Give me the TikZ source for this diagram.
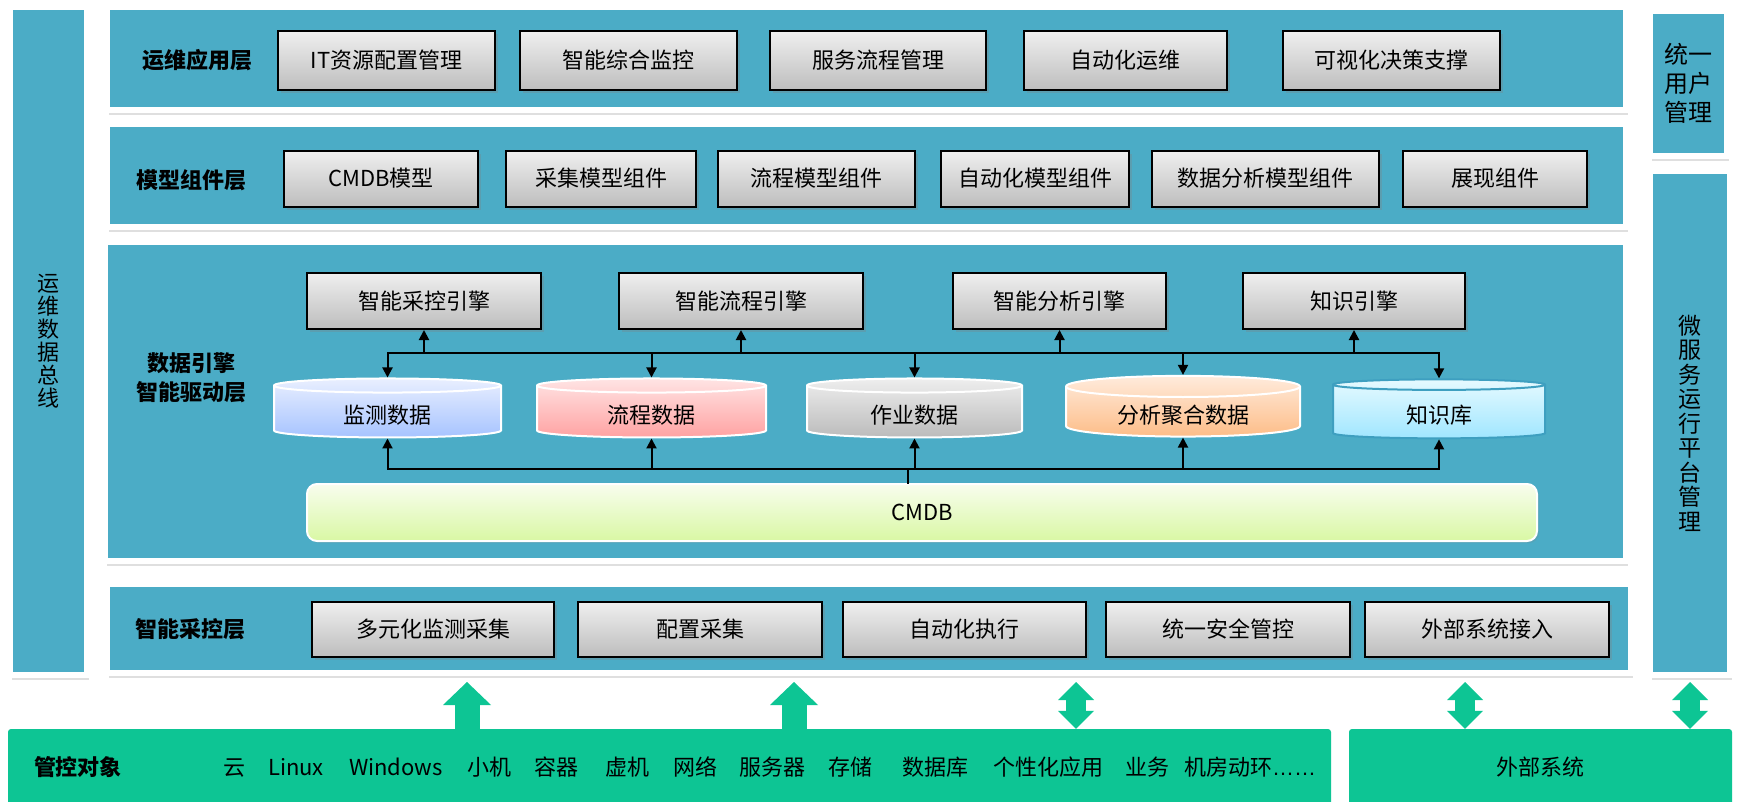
\documentclass[tikz,border=0pt]{standalone}
\usepackage{fontspec}
\setmainfont{Noto Sans CJK SC}
\newfontfamily\dotsfont{Liberation Sans}
\usetikzlibrary{positioning,shapes.geometric,shadows,arrows.meta}

\definecolor{layerblue}{HTML}{4BACC6}
\definecolor{objgreen}{HTML}{0DC594}
\definecolor{boxtop}{HTML}{EFEFEF}
\definecolor{boxbot}{HTML}{BDBDBD}
\definecolor{montop}{HTML}{E9EFFF}
\definecolor{monbot}{HTML}{A6C3FF}
\definecolor{flowtop}{HTML}{FFE4E4}
\definecolor{flowbot}{HTML}{FFA2A2}
\definecolor{jobtop}{HTML}{EEEEEE}
\definecolor{jobbot}{HTML}{BBBBBB}
\definecolor{anatop}{HTML}{FFEBDC}
\definecolor{anabot}{HTML}{FDBD88}
\definecolor{kbtop}{HTML}{E6FAFF}
\definecolor{kbbot}{HTML}{A0E6FF}
\definecolor{kbline}{HTML}{3E9FC0}
\definecolor{cmdbtop}{HTML}{F8FDEE}
\definecolor{cmdbbot}{HTML}{D9F8A4}

\tikzset{
    layer/.style={draw=white, fill=layerblue, line width=6pt, inner sep=0pt,
        drop shadow={shadow xshift=2pt, shadow yshift=-5pt, opacity=0.25}},
    lbl/.style={font=\fontsize{22pt}{29pt}\selectfont\bfseries, align=center},
    txt/.style={font=\fontsize{22pt}{26pt}\selectfont, text height=19pt, text depth=3pt},
    box/.style={txt, draw=black, line width=2pt, top color=boxtop, bottom color=boxbot,
        minimum height=56pt, inner sep=0pt,
        drop shadow={shadow xshift=3pt, shadow yshift=-3pt, opacity=0.3}},
    db/.style={txt, text height=25pt, cylinder, shape border rotate=90, aspect=0.16,
        draw=white, line width=2pt, minimum height=59pt, inner sep=0pt},
    link/.style={line width=2pt, -{Triangle[length=10pt, width=10pt]}},
    rail/.style={line width=2pt, line cap=rect},
    obj/.style={txt, fill=objgreen, rounded corners=3pt, inner sep=0pt},
    bigup/.style={draw=objgreen, line width=25pt,
        -{Triangle[length=23pt, width=48pt, line width=0pt]}},
    bigtwo/.style={draw=objgreen, line width=20pt,
        {Triangle[length=18pt, width=36pt, line width=0pt]}-{Triangle[length=18pt, width=36pt, line width=0pt]}},
}

\begin{document}
\begin{tikzpicture}[x=1pt, y=-1pt]
    \useasboundingbox[fill=white] (0,0) rectangle (1740,802);

    \node[layer, minimum width=77pt, minimum height=668pt, align=center,
        font=\fontsize{22pt}{23pt}\selectfont] (ops) at (48.5,341) {运\\维\\数\\据\\总\\线};
    \node[layer, minimum width=1519pt, minimum height=103pt] (app) at (866.5,58.5) {};
    \node[layer, minimum width=1519pt, minimum height=103pt] (model) at (866.5,175.5) {};
    \node[layer, minimum width=1521pt, minimum height=319pt] (engine) at (865.5,401.5) {};
    \node[layer, minimum width=1524pt, minimum height=89pt] (collect) at (869,628.5) {};
    \node[layer, minimum width=77pt, minimum height=145pt, align=center,
        font=\fontsize{24pt}{29pt}\selectfont] (user) at (1688.5,83.5) {统一\\用户\\管理};
    \node[layer, minimum width=80pt, minimum height=504pt, align=center,
        font=\fontsize{23pt}{24.5pt}\selectfont] (micro) at (1690,423) {微\\服\\务\\运\\行\\平\\台\\管\\理};

    \node[lbl] (l1) at (197,60) {运维应用层};
    \node[lbl] (l2) at (191,180) {模型组件层};
    \node[lbl] (l3) at (191,378) {数据引擎\\智能驱动层};
    \node[lbl] (l4) at (190,629) {智能采控层};

    \node[box, minimum width=217pt, minimum height=59pt] (a1) at (386.5,61) {IT资源配置管理};
    \node[box, minimum width=217pt, minimum height=59pt] (a2) at (628.5,61) {智能综合监控};
    \node[box, minimum width=216pt, minimum height=59pt] (a3) at (878,61) {服务流程管理};
    \node[box, minimum width=203pt, minimum height=59pt] (a4) at (1125.5,61) {自动化运维};
    \node[box, minimum width=217pt, minimum height=59pt] (a5) at (1391.5,61) {可视化决策支撑};

    \node[box, minimum width=194pt] (m1) at (381,179) {CMDB模型};
    \node[box, minimum width=190pt] (m2) at (601,179) {采集模型组件};
    \node[box, minimum width=197pt] (m3) at (816.5,179) {流程模型组件};
    \node[box, minimum width=188pt] (m4) at (1035,179) {自动化模型组件};
    \node[box, minimum width=227pt] (m5) at (1265.5,179) {数据分析模型组件};
    \node[box, minimum width=184pt] (m6) at (1495,179) {展现组件};

    \node[box, minimum width=234pt] (e1) at (424,301) {智能采控引擎};
    \node[box, minimum width=244pt] (e2) at (741,301) {智能流程引擎};
    \node[box, minimum width=213pt] (e3) at (1059.5,301) {智能分析引擎};
    \node[box, minimum width=222pt] (e4) at (1354,301) {知识引擎};

    \node[db, minimum width=227pt, top color=montop, bottom color=monbot] (d1) at (387.5,412) {监测数据};
    \node[db, minimum width=229pt, top color=flowtop, bottom color=flowbot] (d2) at (651.5,412) {流程数据};
    \node[db, minimum width=215pt, top color=jobtop, bottom color=jobbot] (d3) at (914.5,412) {作业数据};
    \node[db, minimum width=234pt, top color=anatop, bottom color=anabot] (d4) at (1183,412) {分析聚合数据};
    \node[db, minimum width=212pt, top color=kbtop, bottom color=kbbot, draw=kbline] (d5) at (1439,412) {知识库};

    \node[txt, draw=white, line width=2pt, rounded corners=10pt, top color=cmdbtop, bottom color=cmdbbot,
        minimum width=1230pt, minimum height=57pt,
        drop shadow={shadow xshift=2pt, shadow yshift=-2pt, opacity=0.2}] (cmdb) at (922,512.5) {CMDB};

    \coordinate (up) at (0,353);
    \coordinate (dn) at (0,469);
    \draw[rail] (d1.north |- up) -- (d5.north |- up);
    \foreach \e in {e1,e2,e3,e4}
        \draw[link] (\e.south |- up) -- (\e.south);
    \foreach \d in {d1,d2,d3,d4,d5}
        \draw[link] (\d.north |- up) -- (\d.north);
    \draw[rail] (d1.south |- dn) -- (d5.south |- dn);
    \foreach \d in {d1,d2,d3,d4,d5}
        \draw[link] (\d.south |- dn) -- (\d.south);
    \draw[rail] ([xshift=-14pt]cmdb.north) -- ([xshift=-14pt]cmdb.north |- dn);

    \node[box, minimum width=242pt, minimum height=55pt] (c1) at (433,629.5) {多元化监测采集};
    \node[box, minimum width=244pt, minimum height=55pt] (c2) at (700,629.5) {配置采集};
    \node[box, minimum width=243pt, minimum height=55pt] (c3) at (964.5,629.5) {自动化执行};
    \node[box, minimum width=244pt, minimum height=55pt] (c4) at (1228,629.5) {统一安全管控};
    \node[box, minimum width=244pt, minimum height=55pt] (c5) at (1487,629.5) {外部系统接入};

    \node[obj, minimum width=1323pt, minimum height=77pt] (obj) at (669.5,767.5) {};
    \node[obj, minimum width=383pt, minimum height=77pt] (ext) at (1540.5,767.5) {外部系统};
    \node[lbl] (o0) at (78,767) {管控对象};
    \foreach \x/\t [count=\i] in {234/云, 296/Linux, 396/Windows, 489/小机, 556/容器,
        627/虚机, 695/网络, 772/服务器, 850/存储, 935/数据库, 1048/个性化应用,
        1147/业务, 1250/{机房动环{\dotsfont ……}}}
        \node[txt] (o\i) at (\x,767) {\t};

    \coordinate (g1) at (467,682);
    \coordinate (g2) at (794,682);
    \coordinate (g3) at (1076,682);
    \coordinate (g4) at (1465,682);
    \coordinate (g5) at (1690,682);
    \draw[bigup] (obj.north -| g1) -- (g1);
    \draw[bigup] (obj.north -| g2) -- (g2);
    \draw[bigtwo] (obj.north -| g3) -- (g3);
    \draw[bigtwo] (ext.north -| g4) -- (g4);
    \draw[bigtwo] (ext.north -| g5) -- (g5);
\end{tikzpicture}
\end{document}
